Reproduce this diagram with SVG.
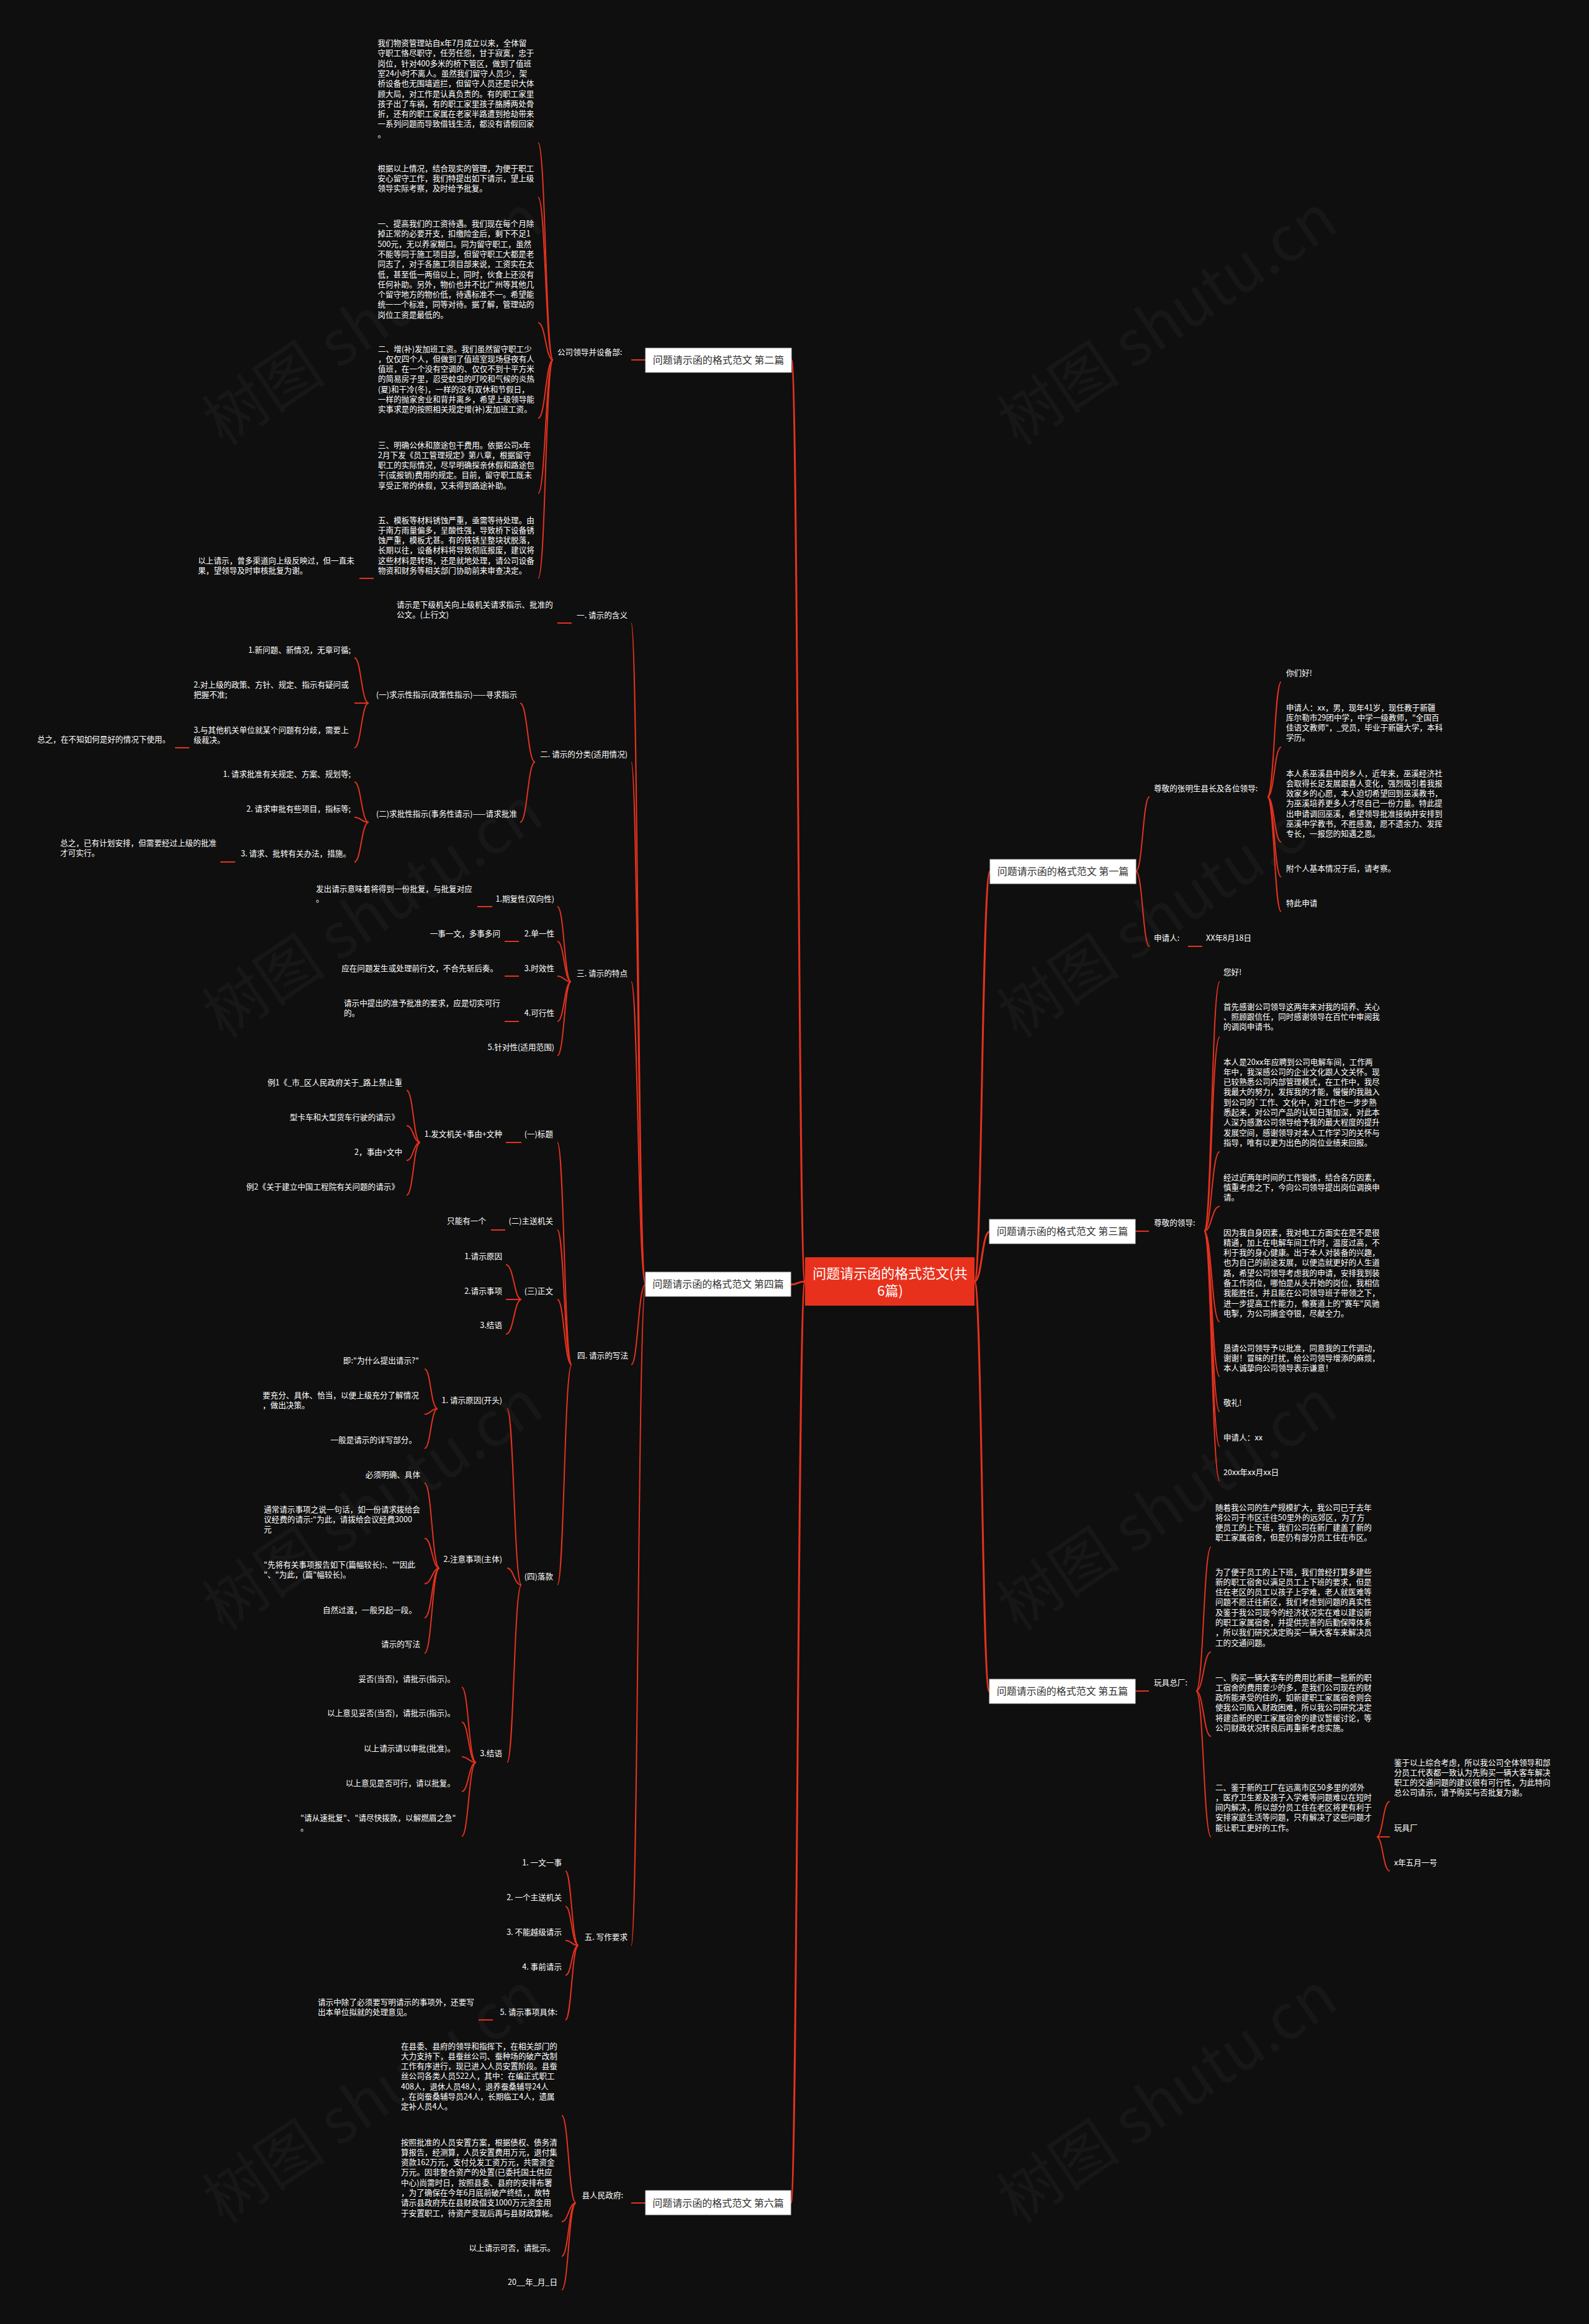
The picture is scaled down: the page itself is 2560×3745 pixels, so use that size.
<svg xmlns="http://www.w3.org/2000/svg" width="2560" height="3745" viewBox="0 0 2560 3745">
<style>
.t{font-family:"Noto Sans CJK SC","Noto Sans",sans-serif;font-size:12.6px;fill:#ffffff}
.e{text-anchor:end}
.bx{fill:#ffffff;stroke:#d0d0d0;stroke-width:1}
.bt{font-family:"Noto Sans CJK SC","Noto Sans",sans-serif;font-size:16px;fill:#333333;text-anchor:middle}
.rt{font-family:"Noto Sans CJK SC","Noto Sans",sans-serif;font-size:22px;fill:#ffffff;text-anchor:middle}
.wm{font-family:"Noto Sans CJK SC","Liberation Serif",serif;font-size:100px;fill:#ffffff;fill-opacity:0.035}
#conn path{fill:none;stroke:#e5321f;stroke-width:2}
#conn .m{stroke-width:3}
</style>
<rect x="0" y="0" width="2560" height="3745" fill="#0f0f0f"/>
<g id="watermarks">
<text class="wm" transform="translate(360,720) rotate(-34)">树图 shutu.cn</text>
<text class="wm" transform="translate(1640,720) rotate(-34)">树图 shutu.cn</text>
<text class="wm" transform="translate(360,1675) rotate(-34)">树图 shutu.cn</text>
<text class="wm" transform="translate(1640,1675) rotate(-34)">树图 shutu.cn</text>
<text class="wm" transform="translate(360,2630) rotate(-34)">树图 shutu.cn</text>
<text class="wm" transform="translate(1640,2630) rotate(-34)">树图 shutu.cn</text>
<text class="wm" transform="translate(360,3585) rotate(-34)">树图 shutu.cn</text>
<text class="wm" transform="translate(1640,3585) rotate(-34)">树图 shutu.cn</text>
</g>
<g id="conn">
<path class="m" d="M1297,2065 C1286,2065 1286,580 1275,580"/>
<path class="m" d="M1297,2065 C1285,2065 1285,2070 1274,2070"/>
<path class="m" d="M1297,2065 C1285,2065 1285,3550 1274,3550"/>
<path class="m" d="M1570,2065 C1582,2065 1582,1404 1595,1404"/>
<path class="m" d="M1570,2065 C1582,2065 1582,1985 1594,1985"/>
<path class="m" d="M1570,2065 C1582,2065 1582,2726 1594,2726"/>
<path d="M1040,580 L1017,580"/>
<path d="M891,580 C879,580 879,230 867,230"/>
<path d="M891,580 C879,580 879,318 867,318"/>
<path d="M891,580 C879,580 879,520 867,520"/>
<path d="M891,580 C879,580 879,674 867,674"/>
<path d="M891,580 C879,580 879,795 867,795"/>
<path d="M891,580 C879,580 879,932 867,932"/>
<path d="M602,932 L579,932"/>
<path d="M1040,2070 C1028,2070 1028,1004 1017,1004"/>
<path d="M1040,2070 C1028,2070 1028,1228 1017,1228"/>
<path d="M1040,2070 C1028,2070 1028,1582 1017,1582"/>
<path d="M1040,2070 C1028,2070 1028,2199 1017,2199"/>
<path d="M1040,2070 C1028,2070 1028,3135 1017,3135"/>
<path d="M921,1004 L898,1004"/>
<path d="M862,1228 C850,1228 850,1133 838,1133"/>
<path d="M862,1228 C850,1228 850,1325 838,1325"/>
<path d="M594,1133 C582,1133 582,1060 571,1060"/>
<path d="M594,1133 C582,1133 582,1133 571,1133"/>
<path d="M594,1133 C582,1133 582,1205 571,1205"/>
<path d="M305,1205 L282,1205"/>
<path d="M594,1325 C582,1325 582,1260 571,1260"/>
<path d="M594,1325 C582,1325 582,1317 571,1317"/>
<path d="M594,1325 C582,1325 582,1389 571,1389"/>
<path d="M379,1389 L355,1389"/>
<path d="M920,1582 C909,1582 909,1461 898,1461"/>
<path d="M920,1582 C909,1582 909,1517 898,1517"/>
<path d="M920,1582 C909,1582 909,1573 898,1573"/>
<path d="M920,1582 C909,1582 909,1646 898,1646"/>
<path d="M920,1582 C909,1582 909,1701 898,1701"/>
<path d="M793,1461 L769,1461"/>
<path d="M836,1517 L813,1517"/>
<path d="M836,1573 L813,1573"/>
<path d="M836,1646 L813,1646"/>
<path d="M921,2199 C909,2199 909,1841 898,1841"/>
<path d="M921,2199 C909,2199 909,1982 898,1982"/>
<path d="M921,2199 C909,2199 909,2094 898,2094"/>
<path d="M921,2199 C909,2199 909,2554 898,2554"/>
<path d="M840,1841 L815,1841"/>
<path d="M677,1841 C666,1841 666,1757 655,1757"/>
<path d="M677,1841 C666,1841 666,1814 655,1814"/>
<path d="M677,1841 C666,1841 666,1870 655,1870"/>
<path d="M677,1841 C666,1841 666,1926 655,1926"/>
<path d="M814,1982 L791,1982"/>
<path d="M840,2094 C828,2094 828,2038 815,2038"/>
<path d="M840,2094 C828,2094 828,2094 815,2094"/>
<path d="M840,2094 C828,2094 828,2150 815,2150"/>
<path d="M840,2554 C828,2554 828,2270 817,2270"/>
<path d="M840,2554 C828,2554 828,2527 817,2527"/>
<path d="M840,2554 C828,2554 828,2840 817,2840"/>
<path d="M705,2270 C694,2270 694,2206 684,2206"/>
<path d="M705,2270 C694,2270 694,2279 684,2279"/>
<path d="M705,2270 C694,2270 694,2334 684,2334"/>
<path d="M708,2527 C696,2527 696,2390 684,2390"/>
<path d="M708,2527 C696,2527 696,2479 684,2479"/>
<path d="M708,2527 C696,2527 696,2552 684,2552"/>
<path d="M708,2527 C696,2527 696,2607 684,2607"/>
<path d="M708,2527 C696,2527 696,2664 684,2664"/>
<path d="M767,2840 C755,2840 755,2719 744,2719"/>
<path d="M767,2840 C755,2840 755,2775 744,2775"/>
<path d="M767,2840 C755,2840 755,2831 744,2831"/>
<path d="M767,2840 C755,2840 755,2887 744,2887"/>
<path d="M767,2840 C755,2840 755,2959 744,2959"/>
<path d="M932,3135 C921,3135 921,3015 911,3015"/>
<path d="M932,3135 C921,3135 921,3072 911,3072"/>
<path d="M932,3135 C921,3135 921,3127 911,3127"/>
<path d="M932,3135 C921,3135 921,3183 911,3183"/>
<path d="M932,3135 C921,3135 921,3255 911,3255"/>
<path d="M794,3255 L771,3255"/>
<path d="M1040,3550 L1017,3550"/>
<path d="M928,3550 C916,3550 916,3409 905,3409"/>
<path d="M928,3550 C916,3550 916,3580 905,3580"/>
<path d="M928,3550 C916,3550 916,3636 905,3636"/>
<path d="M928,3550 C916,3550 916,3690 905,3690"/>
<path d="M1830,1404 C1841,1404 1841,1284 1852,1284"/>
<path d="M1830,1404 C1841,1404 1841,1525 1852,1525"/>
<path d="M2042,1284 C2053,1284 2053,1099 2064,1099"/>
<path d="M2042,1284 C2053,1284 2053,1204 2064,1204"/>
<path d="M2042,1284 C2053,1284 2053,1357 2064,1357"/>
<path d="M2042,1284 C2053,1284 2053,1413 2064,1413"/>
<path d="M2042,1284 C2053,1284 2053,1469 2064,1469"/>
<path d="M1914,1525 L1937,1525"/>
<path d="M1829,1984 L1851,1984"/>
<path d="M1940,1984 C1952,1984 1952,1582 1965,1582"/>
<path d="M1940,1984 C1952,1984 1952,1671 1965,1671"/>
<path d="M1940,1984 C1952,1984 1952,1856 1965,1856"/>
<path d="M1940,1984 C1952,1984 1952,1944 1965,1944"/>
<path d="M1940,1984 C1952,1984 1952,2130 1965,2130"/>
<path d="M1940,1984 C1952,1984 1952,2218 1965,2218"/>
<path d="M1940,1984 C1952,1984 1952,2275 1965,2275"/>
<path d="M1940,1984 C1952,1984 1952,2331 1965,2331"/>
<path d="M1940,1984 C1952,1984 1952,2386 1965,2386"/>
<path d="M1829,2725 L1851,2725"/>
<path d="M1927,2725 C1939,2725 1939,2493 1951,2493"/>
<path d="M1927,2725 C1939,2725 1939,2662 1951,2662"/>
<path d="M1927,2725 C1939,2725 1939,2798 1951,2798"/>
<path d="M1927,2725 C1939,2725 1939,2960 1951,2960"/>
<path d="M2218,2960 C2228,2960 2228,2903 2239,2903"/>
<path d="M2218,2960 C2228,2960 2228,2960 2239,2960"/>
<path d="M2218,2960 C2228,2960 2228,3015 2239,3015"/>
</g>
<g id="root">
<rect x="1297" y="2026" width="273" height="78" fill="#e8311c"/>
<text class="rt" x="1434" y="2060">问题请示函的格式范文(共</text>
<text class="rt" x="1434" y="2088">6篇)</text>
</g>
<g id="b2">
<rect class="bx" x="1040" y="561" width="235" height="39"/>
<text class="bt" x="1157.5" y="586">问题请示函的格式范文 第二篇</text>
</g>
<g id="b2-n">
<text class="t" x="898" y="572">公司领导并设备部:</text>
<text class="t" x="608.5" y="74"><tspan x="608.5">我们物资管理站自x年7月成立以来，全体留</tspan><tspan x="608.5" dy="16.3">守职工恪尽职守，任劳任怨，甘于寂寞，忠于</tspan><tspan x="608.5" dy="16.3">岗位，针对400多米的桥下管区，做到了值班</tspan><tspan x="608.5" dy="16.3">室24小时不离人。虽然我们留守人员少，架</tspan><tspan x="608.5" dy="16.3">桥设备也无围墙遮拦，但留守人员还是识大体</tspan><tspan x="608.5" dy="16.3">顾大局，对工作是认真负责的。有的职工家里</tspan><tspan x="608.5" dy="16.3">孩子出了车祸，有的职工家里孩子胳膊两处骨</tspan><tspan x="608.5" dy="16.3">折，还有的职工家属在老家半路遭到抢劫带来</tspan><tspan x="608.5" dy="16.3">一系列问题而导致借钱生活，都没有请假回家</tspan><tspan x="608.5" dy="16.3">。</tspan></text>
<text class="t" x="608.5" y="275.5"><tspan x="608.5">根据以上情况，结合现实的管理，为便于职工</tspan><tspan x="608.5" dy="16.3">安心留守工作，我们特提出如下请示，望上级</tspan><tspan x="608.5" dy="16.3">领导实际考察，及时给予批复。</tspan></text>
<text class="t" x="608.5" y="365"><tspan x="608.5">一、提高我们的工资待遇。我们现在每个月除</tspan><tspan x="608.5" dy="16.3">掉正常的必要开支，扣缴险金后，剩下不足1</tspan><tspan x="608.5" dy="16.3">500元，无以养家糊口。同为留守职工，虽然</tspan><tspan x="608.5" dy="16.3">不能等同于施工项目部，但留守职工大都是老</tspan><tspan x="608.5" dy="16.3">同志了，对于各施工项目部来说，工资实在太</tspan><tspan x="608.5" dy="16.3">低，甚至低一两倍以上，同时，伙食上还没有</tspan><tspan x="608.5" dy="16.3">任何补助。另外，物价也并不比广州等其他几</tspan><tspan x="608.5" dy="16.3">个留守地方的物价低，待遇标准不一。希望能</tspan><tspan x="608.5" dy="16.3">统一一个标准，同等对待。据了解，管理站的</tspan><tspan x="608.5" dy="16.3">岗位工资是最低的。</tspan></text>
<text class="t" x="609" y="566.5"><tspan x="609">二、增(补)发加班工资。我们虽然留守职工少</tspan><tspan x="609" dy="16.3">，仅仅四个人，但做到了值班室现场昼夜有人</tspan><tspan x="609" dy="16.3">值班，在一个没有空调的、仅仅不到十平方米</tspan><tspan x="609" dy="16.3">的简易房子里，忍受蚊虫的叮咬和气候的炎热</tspan><tspan x="609" dy="16.3">(夏)和干冷(冬)，一样的没有双休和节假日，</tspan><tspan x="609" dy="16.3">一样的抛家舍业和背井离乡，希望上级领导能</tspan><tspan x="609" dy="16.3">实事求是的按照相关规定增(补)发加班工资。</tspan></text>
<text class="t" x="609" y="721.5"><tspan x="609">三、明确公休和旅途包干费用。依据公司x年</tspan><tspan x="609" dy="16.3">2月下发《员工管理规定》第八章，根据留守</tspan><tspan x="609" dy="16.3">职工的实际情况，尽早明确探亲休假和路途包</tspan><tspan x="609" dy="16.3">干(或报销)费用的规定。目前，留守职工既未</tspan><tspan x="609" dy="16.3">享受正常的休假，又未得到路途补助。</tspan></text>
<text class="t" x="609" y="842.5"><tspan x="609">五、模板等材料锈蚀严重，亟需等待处理。由</tspan><tspan x="609" dy="16.3">于南方雨量偏多，呈酸性强，导致桥下设备锈</tspan><tspan x="609" dy="16.3">蚀严重，模板尤甚。有的铁锈呈整块状脱落，</tspan><tspan x="609" dy="16.3">长期以往，设备材料将导致彻底报废，建议将</tspan><tspan x="609" dy="16.3">这些材料是转场，还是就地处理，请公司设备</tspan><tspan x="609" dy="16.3">物资和财务等相关部门协助前来审查决定。</tspan></text>
<text class="t" x="319" y="907.5"><tspan x="319">以上请示，曾多渠道向上级反映过，但一直未</tspan><tspan x="319" dy="16.3">果，望领导及时审核批复为谢。</tspan></text>
</g>
<g id="b4">
<rect class="bx" x="1040" y="2050" width="234" height="39"/>
<text class="bt" x="1157" y="2075">问题请示函的格式范文 第四篇</text>
</g>
<g id="b4-n1">
<text class="t e" x="1011" y="995.5">一. 请示的含义</text>
<text class="t" x="639" y="978.5"><tspan x="639">请示是下级机关向上级机关请求指示、批准的</tspan><tspan x="639" dy="16.3">公文。(上行文)</tspan></text>
</g>
<g id="b4-n2">
<text class="t e" x="1011" y="1219.5">二. 请示的分类(适用情况)</text>
<text class="t e" x="833" y="1123.5">(一)求示性指示(政策性指示)——寻求指示</text>
<text class="t e" x="565" y="1051.5">1.新问题、新情况，无章可循;</text>
<text class="t" x="312" y="1107.5"><tspan x="312">2.对上级的政策、方针、规定、指示有疑问或</tspan><tspan x="312" dy="16.3">把握不准;</tspan></text>
<text class="t" x="312" y="1180.5"><tspan x="312">3.与其他机关单位就某个问题有分歧，需要上</tspan><tspan x="312" dy="16.3">级裁决。</tspan></text>
<text class="t e" x="274" y="1195.5">总之，在不知如何是好的情况下使用。</text>
<text class="t e" x="833" y="1315.5">(二)求批性指示(事务性请示)——请求批准</text>
<text class="t e" x="565" y="1251.5">1. 请求批准有关规定、方案、规划等;</text>
<text class="t e" x="565" y="1307.5">2. 请求审批有些项目，指标等;</text>
<text class="t e" x="565" y="1379.5">3. 请求、批转有关办法，措施。</text>
<text class="t" x="97" y="1363"><tspan x="97">总之，已有计划安排，但需要经过上级的批准</tspan><tspan x="97" dy="16.3">才可实行。</tspan></text>
</g>
<g id="b4-n3">
<text class="t e" x="1011" y="1572.5">三. 请示的特点</text>
<text class="t e" x="893" y="1452.5">1.期复性(双向性)</text>
<text class="t" x="509" y="1437"><tspan x="509">发出请示意味着将得到一份批复，与批复对应</tspan><tspan x="509" dy="16.3">。</tspan></text>
<text class="t e" x="893" y="1508.5">2.单一性</text>
<text class="t e" x="806" y="1508.5">一事一文，多事多问</text>
<text class="t e" x="893" y="1564.5">3.时效性</text>
<text class="t e" x="802" y="1564.5">应在问题发生或处理前行文，不合先斩后奏。</text>
<text class="t e" x="893" y="1636.5">4.可行性</text>
<text class="t" x="554" y="1620.5"><tspan x="554">请示中提出的准予批准的要求，应是切实可行</tspan><tspan x="554" dy="16.3">的。</tspan></text>
<text class="t e" x="893" y="1691.5">5.针对性(适用范围)</text>
</g>
<g id="b4-n4">
<text class="t e" x="1012" y="2188.5">四. 请示的写法</text>
<text class="t e" x="891" y="1831.5">(一)标题</text>
<text class="t e" x="809" y="1831.5">1.发文机关+事由+文种</text>
<text class="t e" x="648" y="1748.5">例1《_市_区人民政府关于_路上禁止重</text>
<text class="t e" x="643" y="1804.5">型卡车和大型货车行驶的请示》</text>
<text class="t e" x="648" y="1860.5">2，事由+文中</text>
<text class="t e" x="643" y="1916.5">例2《关于建立中国工程院有关问题的请示》</text>
<text class="t e" x="891" y="1971.5">(二)主送机关</text>
<text class="t e" x="783" y="1971.5">只能有一个</text>
<text class="t e" x="891" y="2084.5">(三)正文</text>
<text class="t e" x="809" y="2028.5">1.请示原因</text>
<text class="t e" x="809" y="2084.5">2.请示事项</text>
<text class="t e" x="809" y="2139.5">3.结语</text>
<text class="t e" x="891" y="2544.5">(四)落款</text>
<text class="t e" x="809" y="2260.5">1. 请示原因(开头)</text>
<text class="t e" x="675" y="2196.5">即:"为什么提出请示?"</text>
<text class="t" x="423" y="2252.5"><tspan x="423">要充分、具体、恰当，以便上级充分了解情况</tspan><tspan x="423" dy="16.3">，做出决策。</tspan></text>
<text class="t e" x="671" y="2324.5">一般是请示的详写部分。</text>
<text class="t e" x="809" y="2516.5">2.注意事项(主体)</text>
<text class="t e" x="677" y="2380.5">必须明确、具体</text>
<text class="t" x="425" y="2436.5"><tspan x="425">通常请示事项之说一句话，如一份请求拨给会</tspan><tspan x="425" dy="16.3">议经费的请示:"为此，请拨给会议经费3000</tspan><tspan x="425" dy="16.3">元</tspan></text>
<text class="t" x="425" y="2525.5"><tspan x="425">"先将有关事项报告如下(篇幅较长):、""因此</tspan><tspan x="425" dy="16.3">"、"为此，(篇"幅较长)。</tspan></text>
<text class="t e" x="671" y="2598.5">自然过渡，一般另起一段。</text>
<text class="t e" x="677" y="2653.5">请示的写法</text>
<text class="t e" x="809" y="2829.5">3.结语</text>
<text class="t e" x="733" y="2709.5">妥否(当否)，请批示(指示)。</text>
<text class="t e" x="733" y="2764.5">以上意见妥否(当否)，请批示(指示)。</text>
<text class="t e" x="733" y="2821.5">以上请示请以审批(批准)。</text>
<text class="t e" x="733" y="2877.5">以上意见是否可行，请以批复。</text>
<text class="t" x="484" y="2933.5"><tspan x="484">"请从速批复"、"请尽快拨款，以解燃眉之急"</tspan><tspan x="484" dy="16.3">。</tspan></text>
</g>
<g id="b4-n5">
<text class="t e" x="1011" y="3125.5">五. 写作要求</text>
<text class="t e" x="905" y="3005.5">1. 一文一事</text>
<text class="t e" x="905" y="3061.5">2. 一个主送机关</text>
<text class="t e" x="905" y="3117.5">3. 不能越级请示</text>
<text class="t e" x="905" y="3173.5">4. 事前请示</text>
<text class="t e" x="898" y="3246.5">5. 请示事项具体:</text>
<text class="t" x="512" y="3230.5"><tspan x="512">请示中除了必须要写明请示的事项外，还要写</tspan><tspan x="512" dy="16.3">出本单位拟就的处理意见。</tspan></text>
</g>
<g id="b6">
<rect class="bx" x="1040" y="3530" width="234" height="39"/>
<text class="bt" x="1157" y="3555.5">问题请示函的格式范文 第六篇</text>
</g>
<g id="b6-n">
<text class="t e" x="1004" y="3541.5">县人民政府:</text>
<text class="t" x="646" y="3301.5"><tspan x="646">在县委、县府的领导和指挥下，在相关部门的</tspan><tspan x="646" dy="16.3">大力支持下，县蚕丝公司、蚕种场的破产改制</tspan><tspan x="646" dy="16.3">工作有序进行，现已进入人员安置阶段。县蚕</tspan><tspan x="646" dy="16.3">丝公司各类人员522人，其中：在编正式职工</tspan><tspan x="646" dy="16.3">408人，退休人员48人，退养蚕桑辅导24人</tspan><tspan x="646" dy="16.3">，在岗蚕桑辅导员24人，长期临工4人，遗属</tspan><tspan x="646" dy="16.3">定补人员4人。</tspan></text>
<text class="t" x="646" y="3456.5"><tspan x="646">按照批准的人员安置方案，根据债权、债务清</tspan><tspan x="646" dy="16.3">算报告，经测算，人员安置费用万元，退付集</tspan><tspan x="646" dy="16.3">资款162万元，支付兑发工资万元，共需资金</tspan><tspan x="646" dy="16.3">万元。因非整合资产的处置(已委托国土供应</tspan><tspan x="646" dy="16.3">中心)尚需时日，按照县委、县府的安排布署</tspan><tspan x="646" dy="16.3">，为了确保在今年6月底前破产终结，，故特</tspan><tspan x="646" dy="16.3">请示县政府先在县财政借支1000万元资金用</tspan><tspan x="646" dy="16.3">于安置职工，待资产变现后再与县财政算帐。</tspan></text>
<text class="t e" x="894" y="3626.5">以上请示可否，请批示。</text>
<text class="t e" x="898" y="3681.5">20__年_月_日</text>
</g>
<g id="b1">
<rect class="bx" x="1595" y="1385" width="235" height="39"/>
<text class="bt" x="1712.5" y="1410">问题请示函的格式范文 第一篇</text>
</g>
<g id="b1-n">
<text class="t" x="1859" y="1274.5">尊敬的张明生县长及各位领导:</text>
<text class="t" x="2072" y="1088.5">你们好!</text>
<text class="t" x="2072" y="1144.5"><tspan x="2072">申请人：xx，男，现年41岁，现任教于新疆</tspan><tspan x="2072" dy="16.3">库尔勒市29团中学，中学一级教师，"全国百</tspan><tspan x="2072" dy="16.3">佳语文教师"，_党员，毕业于新疆大学，本科</tspan><tspan x="2072" dy="16.3">学历。</tspan></text>
<text class="t" x="2072" y="1250.5"><tspan x="2072">本人系巫溪县中岗乡人，近年来，巫溪经济社</tspan><tspan x="2072" dy="16.3">会取得长足发展跟喜人变化，强烈吸引着我报</tspan><tspan x="2072" dy="16.3">效家乡的心愿，本人迫切希望回到巫溪教书，</tspan><tspan x="2072" dy="16.3">为巫溪培养更多人才尽自己一份力量。特此提</tspan><tspan x="2072" dy="16.3">出申请调回巫溪，希望领导批准接纳并安排到</tspan><tspan x="2072" dy="16.3">巫溪中学教书，不胜感激，愿不遗余力、发挥</tspan><tspan x="2072" dy="16.3">专长，一报您的知遇之恩。</tspan></text>
<text class="t" x="2072" y="1403.5">附个人基本情况于后，请考察。</text>
<text class="t" x="2072" y="1459.5">特此申请</text>
<text class="t" x="1859" y="1515.5">申请人:</text>
<text class="t" x="1943" y="1515.5">XX年8月18日</text>
</g>
<g id="b3">
<rect class="bx" x="1594" y="1965" width="235" height="39"/>
<text class="bt" x="1711.5" y="1990">问题请示函的格式范文 第三篇</text>
</g>
<g id="b3-n">
<text class="t" x="1859" y="1974.5">尊敬的领导:</text>
<text class="t" x="1971" y="1570.5">您好!</text>
<text class="t" x="1971" y="1626.5"><tspan x="1971">首先感谢公司领导这两年来对我的培养、关心</tspan><tspan x="1971" dy="16.3">、照顾跟信任，同时感谢领导在百忙中审阅我</tspan><tspan x="1971" dy="16.3">的调岗申请书。</tspan></text>
<text class="t" x="1971" y="1715.5"><tspan x="1971">本人是20xx年应聘到公司电解车间，工作两</tspan><tspan x="1971" dy="16.3">年中，我深感公司的企业文化跟人文关怀。现</tspan><tspan x="1971" dy="16.3">已较熟悉公司内部管理模式，在工作中，我尽</tspan><tspan x="1971" dy="16.3">我最大的努力，发挥我的才能，慢慢的我融入</tspan><tspan x="1971" dy="16.3">到公司的`工作、文化中，对工作也一步步熟</tspan><tspan x="1971" dy="16.3">悉起来，对公司产品的认知日渐加深，对此本</tspan><tspan x="1971" dy="16.3">人深为感激公司领导给予我的最大程度的提升</tspan><tspan x="1971" dy="16.3">发展空间，感谢领导对本人工作学习的关怀与</tspan><tspan x="1971" dy="16.3">指导，唯有以更为出色的岗位业绩来回报。</tspan></text>
<text class="t" x="1971" y="1901.5"><tspan x="1971">经过近两年时间的工作锻炼，结合各方因素，</tspan><tspan x="1971" dy="16.3">慎重考虑之下，今向公司领导提出岗位调换申</tspan><tspan x="1971" dy="16.3">请。</tspan></text>
<text class="t" x="1971" y="1990.5"><tspan x="1971">因为我自身因素，我对电工方面实在是不是很</tspan><tspan x="1971" dy="16.3">精通，加上在电解车间工作时，温度过高，不</tspan><tspan x="1971" dy="16.3">利于我的身心健康。出于本人对装备的兴趣，</tspan><tspan x="1971" dy="16.3">也为自己的前途发展，以便造就更好的人生道</tspan><tspan x="1971" dy="16.3">路，希望公司领导考虑我的申请，安排我到装</tspan><tspan x="1971" dy="16.3">备工作岗位，哪怕是从头开始的岗位，我相信</tspan><tspan x="1971" dy="16.3">我能胜任，并且能在公司领导班子带领之下，</tspan><tspan x="1971" dy="16.3">进一步提高工作能力，像赛道上的"赛车"风驰</tspan><tspan x="1971" dy="16.3">电掣，为公司摘金夺银，尽献全力。</tspan></text>
<text class="t" x="1971" y="2176.5"><tspan x="1971">恳请公司领导予以批准，同意我的工作调动，</tspan><tspan x="1971" dy="16.3">谢谢！冒昧的打扰，给公司领导增添的麻烦，</tspan><tspan x="1971" dy="16.3">本人诚挚向公司领导表示谦意！</tspan></text>
<text class="t" x="1971" y="2264.5">敬礼!</text>
<text class="t" x="1971" y="2320.5">申请人：xx</text>
<text class="t" x="1971" y="2376.5">20xx年xx月xx日</text>
</g>
<g id="b5">
<rect class="bx" x="1594" y="2706" width="235" height="39"/>
<text class="bt" x="1711.5" y="2731">问题请示函的格式范文 第五篇</text>
</g>
<g id="b5-n">
<text class="t" x="1859" y="2715.5">玩具总厂:</text>
<text class="t" x="1958" y="2433.5"><tspan x="1958">随着我公司的生产规模扩大，我公司已于去年</tspan><tspan x="1958" dy="16.3">将公司于市区迁往50里外的远郊区，为了方</tspan><tspan x="1958" dy="16.3">便员工的上下班，我们公司在新厂建盖了新的</tspan><tspan x="1958" dy="16.3">职工家属宿舍，但是仍有部分员工住在市区。</tspan></text>
<text class="t" x="1958" y="2537.5"><tspan x="1958">为了便于员工的上下班，我们曾经打算多建些</tspan><tspan x="1958" dy="16.3">新的职工宿舍以满足员工上下班的要求，但是</tspan><tspan x="1958" dy="16.3">住在老区的员工以孩子上学难，老人就医难等</tspan><tspan x="1958" dy="16.3">问题不愿迁往新区，我们考虑到问题的真实性</tspan><tspan x="1958" dy="16.3">及鉴于我公司现今的经济状况实在难以建设新</tspan><tspan x="1958" dy="16.3">的职工家属宿舍，并提供完善的后勤保障体系</tspan><tspan x="1958" dy="16.3">，所以我们研究决定购买一辆大客车来解决员</tspan><tspan x="1958" dy="16.3">工的交通问题。</tspan></text>
<text class="t" x="1958" y="2707.5"><tspan x="1958">一、购买一辆大客车的费用比新建一批新的职</tspan><tspan x="1958" dy="16.3">工宿舍的费用要少的多，是我们公司现在的财</tspan><tspan x="1958" dy="16.3">政所能承受的住的，如新建职工家属宿舍则会</tspan><tspan x="1958" dy="16.3">使我公司陷入财政困难，所以我公司研究决定</tspan><tspan x="1958" dy="16.3">将建造新的职工家属宿舍的建议暂缓讨论，等</tspan><tspan x="1958" dy="16.3">公司财政状况转良后再重新考虑实施。</tspan></text>
<text class="t" x="1958" y="2884.5"><tspan x="1958">二、鉴于新的工厂在远离市区50多里的郊外</tspan><tspan x="1958" dy="16.3">，医疗卫生差及孩子入学难等问题难以在短时</tspan><tspan x="1958" dy="16.3">间内解决，所以部分员工住在老区将更有利于</tspan><tspan x="1958" dy="16.3">安排家庭生活等问题，只有解决了这些问题才</tspan><tspan x="1958" dy="16.3">能让职工更好的工作。</tspan></text>
<text class="t" x="2246" y="2844.5"><tspan x="2246">鉴于以上综合考虑，所以我公司全体领导和部</tspan><tspan x="2246" dy="16.3">分员工代表都一致认为先购买一辆大客车解决</tspan><tspan x="2246" dy="16.3">职工的交通问题的建议很有可行性，为此特向</tspan><tspan x="2246" dy="16.3">总公司请示，请予购买与否批复为谢。</tspan></text>
<text class="t" x="2246" y="2949.5">玩具厂</text>
<text class="t" x="2246" y="3005.5">x年五月一号</text>
</g>
</svg>
